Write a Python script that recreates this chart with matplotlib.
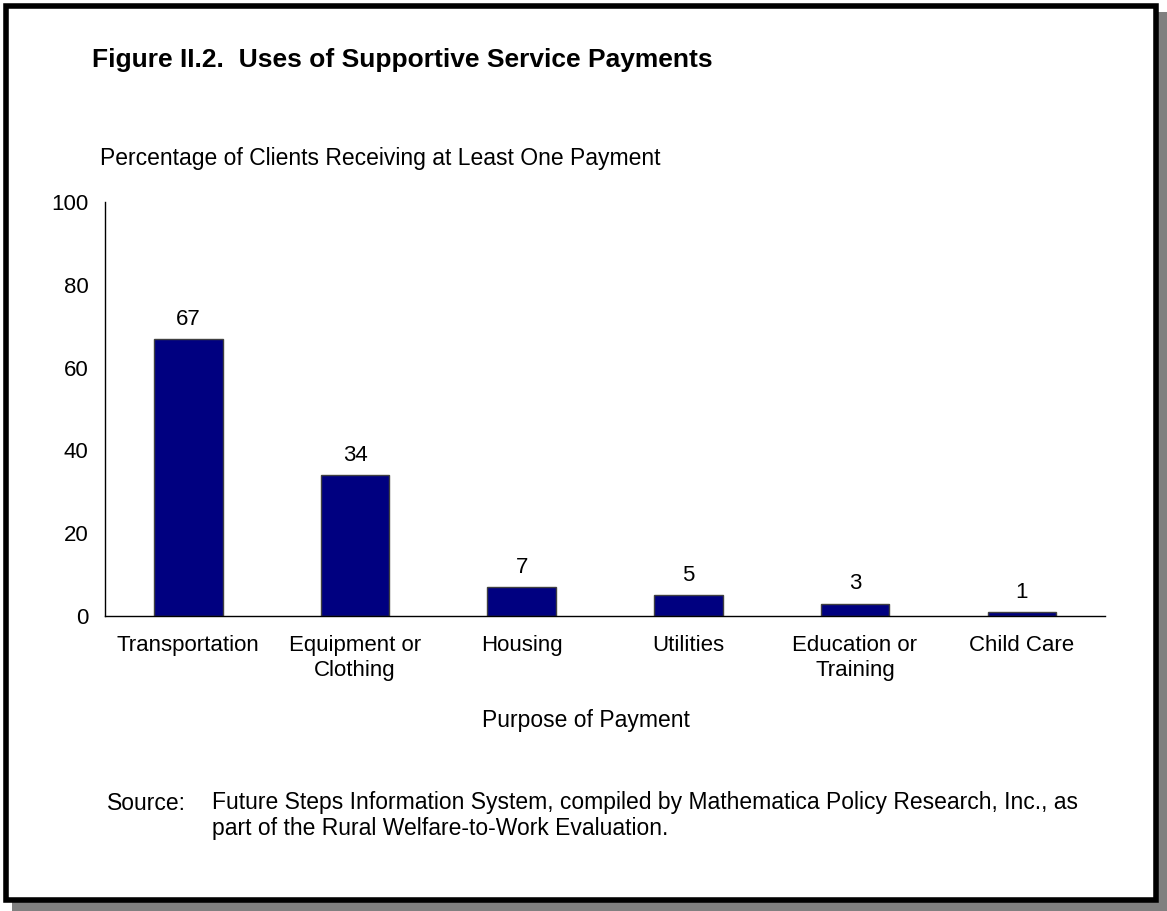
import matplotlib.pyplot as plt
from matplotlib.patches import Rectangle
import numpy as np

plt.rcParams['font.family'] = ['Liberation Sans', 'DejaVu Sans']

categories = ['Transportation', 'Equipment or\nClothing', 'Housing', 'Utilities',
              'Education or\nTraining', 'Child Care']
values = [67, 34, 7, 5, 3, 1]
yticks = [0, 20, 40, 60, 80, 100]

W, H = 1167, 911
FS = 16
fig = plt.figure(figsize=(W / 100, H / 100), dpi=100)

# frame with drop shadow
fig.patches.append(Rectangle((12 / W, 1 - 911 / H), 1155 / W, 899 / H, transform=fig.transFigure,
                             facecolor='#808080', edgecolor='none', zorder=0))
fig.patches.append(Rectangle((6 / W, 1 - 900 / H), 1150 / W, 894 / H, transform=fig.transFigure,
                             facecolor='white', edgecolor='black', linewidth=4, zorder=1))

ax = fig.add_axes([105 / W, 1 - 616 / H, 1000 / W, 414 / H])
ax.set_zorder(2)
ax.patch.set_alpha(0)

x = np.arange(len(categories))
bars = ax.bar(x, values, width=0.41, color='#000080', edgecolor='#404040', linewidth=1)
for xi, v in zip(x, values):
    ax.text(xi, v + 2.2, str(v), ha='center', va='bottom', fontsize=FS)

ax.set_xlim(-0.5, len(categories) - 0.5)
ax.set_ylim(0, 100)
ax.set_yticks(yticks)
ax.set_xticks(x)
ax.set_xticklabels(categories, fontsize=FS, linespacing=1.2, va='top')
ax.tick_params(axis='both', length=0, labelsize=FS)
ax.tick_params(axis='x', pad=14)
ax.tick_params(axis='y', pad=12)
for s in ['top', 'right']:
    ax.spines[s].set_visible(False)
for s in ['left', 'bottom']:
    ax.spines[s].set_linewidth(1)

fig.text(92 / W, 1 - 60 / H, 'Figure II.2.  Uses of Supportive Service Payments',
         fontsize=19, fontweight='bold', va='center', ha='left')
fig.text(100 / W, 1 - 159 / H, 'Percentage of Clients Receiving at Least One Payment',
         fontsize=16.5, va='center', ha='left')
fig.text(586 / W, 1 - 720 / H, 'Purpose of Payment', fontsize=16.5, va='center', ha='center')
fig.text(107 / W, 1 - 803 / H, 'Source:', fontsize=16.5, va='center', ha='left')
fig.text(212 / W, 1 - 803 / H,
         'Future Steps Information System, compiled by Mathematica Policy Research, Inc., as',
         fontsize=16.5, va='center', ha='left')
fig.text(212 / W, 1 - 829 / H, 'part of the Rural Welfare-to-Work Evaluation.',
         fontsize=16.5, va='center', ha='left')

fig.savefig('out.png', dpi=100)
